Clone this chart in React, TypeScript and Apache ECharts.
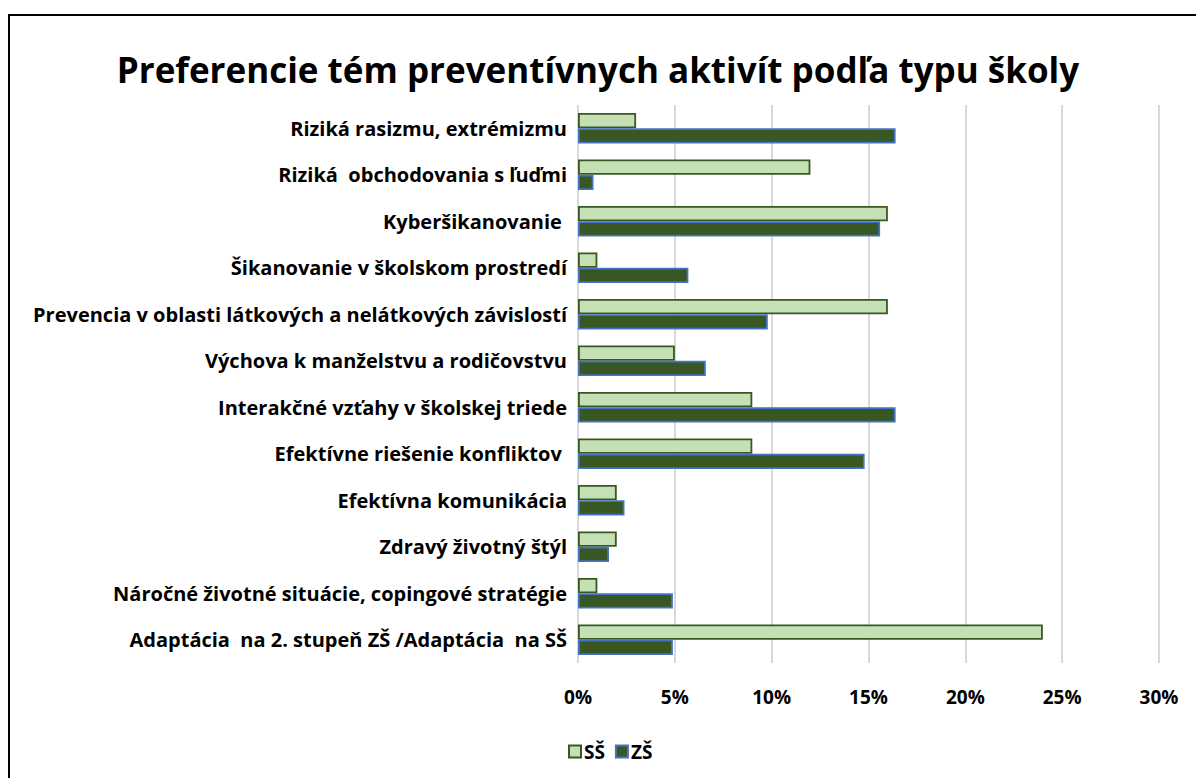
import React, { useEffect, useRef } from "react";
import * as echarts from "echarts";

const categories = [
  "Riziká rasizmu, extrémizmu",
  "Riziká  obchodovania s ľuďmi",
  "Kyberšikanovanie ",
  "Šikanovanie v školskom prostredí",
  "Prevencia v oblasti látkových a nelátkových závislostí",
  "Výchova k manželstvu a rodičovstvu",
  "Interakčné vzťahy v školskej triede",
  "Efektívne riešenie konfliktov ",
  "Efektívna komunikácia",
  "Zdravý životný štýl",
  "Náročné životné situácie, copingové stratégie",
  "Adaptácia  na 2. stupeň ZŠ /Adaptácia  na SŠ",
];

const ssValues = [3, 12, 16, 1, 16, 5, 9, 9, 2, 2, 1, 24];
const zsValues = [16.4, 0.8, 15.6, 5.7, 9.8, 6.6, 16.4, 14.8, 2.4, 1.6, 4.9, 4.9];

const title = "Preferencie tém preventívnych aktivít podľa typu školy";
const FONT = "'Open Sans', sans-serif";

export default function App() {
  const ref = useRef<HTMLDivElement>(null);
  useEffect(() => {
    if (!ref.current) return;
    const chart = echarts.init(ref.current, null, { renderer: "svg" });
    chart.setOption({
      animation: false,
      backgroundColor: "#ffffff",
      title: {
        text: title,
        left: "center",
        top: 47,
        textStyle: { fontFamily: FONT, fontWeight: "bold", fontSize: 35, color: "#000" },
      },
      graphic: [
        {
          type: "rect",
          shape: { x: 9, y: 15, width: 1400, height: 1000 },
          style: { fill: "none", stroke: "#000", lineWidth: 2 },
          silent: true,
        },
      ],
      legend: {
        left: 563,
        top: 737,
        icon: "rect",
        itemWidth: 12,
        itemHeight: 12,
        itemGap: 10,
        itemStyle: { borderWidth: 2 },
        textStyle: { fontFamily: FONT, fontWeight: "bold", fontSize: 19, color: "#000", padding: [0, 0, 0, -2] },
        data: ["SŠ", "ZŠ"],
      },
      grid: { left: 578, right: 37, top: 105, bottom: 115, containLabel: false },
      xAxis: {
        type: "value",
        min: 0,
        max: 30,
        interval: 5,
        axisLine: { show: false },
        axisTick: { show: false },
        axisLabel: {
          formatter: "{value}%",
          fontFamily: FONT,
          fontWeight: "bold",
          fontSize: 19,
          color: "#000",
          margin: 24,
        },
        splitLine: { show: true, lineStyle: { color: "#d9d9d9", width: 2 } },
      },
      yAxis: {
        type: "category",
        inverse: true,
        data: categories,
        axisLine: { show: false },
        axisTick: { show: false },
        axisLabel: {
          fontFamily: FONT,
          fontWeight: "bold",
          fontSize: 20,
          color: "#000",
          margin: 11,
        },
      },
      series: [
        {
          name: "SŠ",
          type: "bar",
          data: ssValues,
          barGap: "0%",
          barCategoryGap: "34%",
          itemStyle: { color: "#c5e0b4", borderColor: "#385723", borderWidth: 1.8 },
        },
        {
          name: "ZŠ",
          type: "bar",
          data: zsValues,
          itemStyle: { color: "#385723", borderColor: "#4472c4", borderWidth: 1.8 },
        },
      ],
    });
    return () => chart.dispose();
  }, []);
  return (
    <div
      ref={ref}
      style={{ position: "fixed", left: 0, top: 0, width: 1196, height: 778 }}
    />
  );
}
